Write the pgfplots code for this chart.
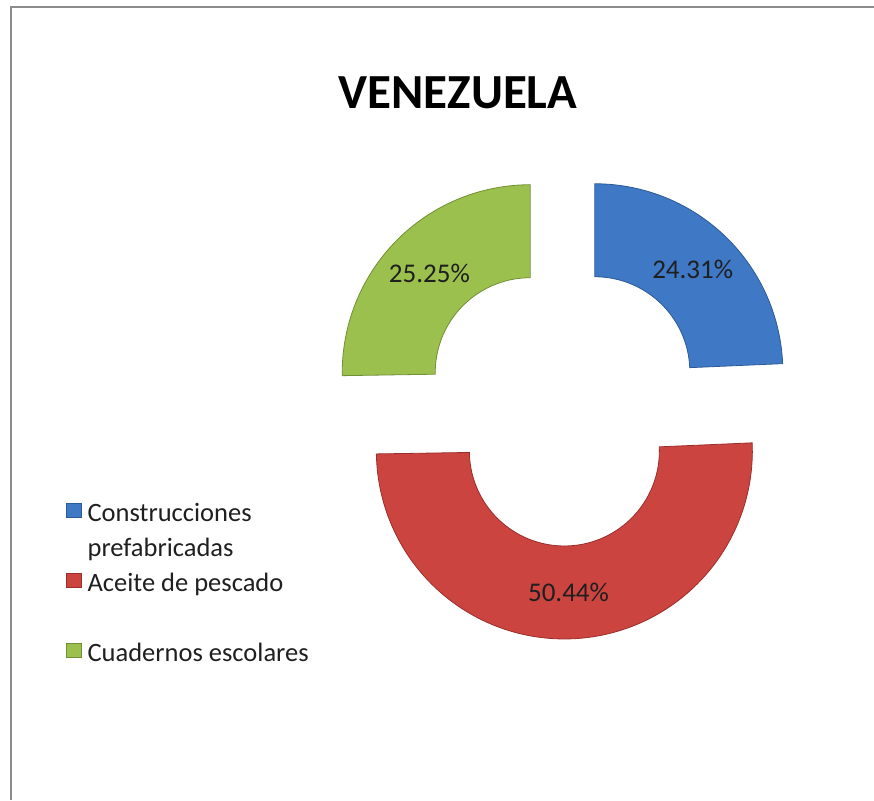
\documentclass[border=0pt]{standalone}
\usepackage{fontspec}
\setmainfont{Carlito}
\usepackage{pgfplots}
\pgfplotsset{compat=1.18}
\usepgfplotslibrary{fillbetween}

\definecolor{cBlue}{HTML}{3F78C4}
\definecolor{cBlueD}{HTML}{2C5A96}
\definecolor{cRed}{HTML}{CC4440}
\definecolor{cRedD}{HTML}{9A2E2B}
\definecolor{cGreen}{HTML}{9BC04E}
\definecolor{cGreenD}{HTML}{728F35}
\definecolor{frameGray}{HTML}{8C8C8C}

\begin{document}
\begin{tikzpicture}
% shares (percent), clockwise from 12 o'clock
\def\vA{24.31}\def\vB{50.44}\def\vC{25.25}
% ring geometry in px: centre, outer/inner radius, explosion
\def\cx{563}\def\cy{395}\def\ro{188}\def\ri{95}\def\dx{46}
\pgfmathsetmacro\aA{90}
\pgfmathsetmacro\aB{\aA-3.6*\vA}
\pgfmathsetmacro\aC{\aB-3.6*\vB}
\pgfmathsetmacro\aD{\aC-3.6*\vC}
\pgfmathsetmacro\mA{(\aA+\aB)/2}
\pgfmathsetmacro\mB{(\aB+\aC)/2}
\pgfmathsetmacro\mC{(\aC+\aD)/2}
\pgfmathsetmacro\xA{\cx+\dx*cos(\mA)}\pgfmathsetmacro\yA{\cy+\dx*sin(\mA)}
\pgfmathsetmacro\xB{\cx+\dx*cos(\mB)}\pgfmathsetmacro\yB{\cy+\dx*sin(\mB)}
\pgfmathsetmacro\xC{\cx+\dx*cos(\mC)}\pgfmathsetmacro\yC{\cy+\dx*sin(\mC)}
\pgfmathsetmacro\rm{(\ro+\ri)/2}
\pgfmathsetmacro\lxA{\xA+\rm*cos(\mA)}\pgfmathsetmacro\lyA{\yA+\rm*sin(\mA)}
\pgfmathsetmacro\lxB{\xB+\rm*cos(\mB)}\pgfmathsetmacro\lyB{\yB+\rm*sin(\mB)}
\pgfmathsetmacro\lxC{\xC+\rm*cos(\mC)}\pgfmathsetmacro\lyC{\yC+\rm*sin(\mC)}

\begin{axis}[
  width=874pt, height=800pt, scale only axis,
  xmin=0, xmax=874, ymin=0, ymax=800,
  hide axis, clip=false,
  legend cell align=left,
  legend image code/.code={\draw[#1] (0pt,-7pt) rectangle (15pt,7pt);},
  legend style={at={(axis cs:66,303.3)}, anchor=north west,
    draw=none, fill=none, inner sep=0pt, row sep=9.3pt, column sep=6pt,
    font=\fontsize{26.5}{34.75}\selectfont, text=black!88,
    nodes={inner sep=0pt}},
]
\coordinate (bl) at (rel axis cs:0,0);
\coordinate (tr) at (rel axis cs:1,1);

% Construcciones prefabricadas
\addplot[forget plot, draw=none, name path=oA, domain=\aB:\aA, samples=70]
  ({\xA+\ro*cos(x)},{\yA+\ro*sin(x)});
\addplot[forget plot, draw=none, name path=iA, domain=\aB:\aA, samples=70]
  ({\xA+\ri*cos(x)},{\yA+\ri*sin(x)});
\addplot[forget plot, fill=cBlue, draw=cBlueD, line width=0.8pt] fill between[of=oA and iA];

% Aceite de pescado
\addplot[forget plot, draw=none, name path=oB, domain=\aC:\aB, samples=120]
  ({\xB+\ro*cos(x)},{\yB+\ro*sin(x)});
\addplot[forget plot, draw=none, name path=iB, domain=\aC:\aB, samples=120]
  ({\xB+\ri*cos(x)},{\yB+\ri*sin(x)});
\addplot[forget plot, fill=cRed, draw=cRedD, line width=0.8pt] fill between[of=oB and iB];

% Cuadernos escolares
\addplot[forget plot, draw=none, name path=oC, domain=\aD:\aC, samples=70]
  ({\xC+\ro*cos(x)},{\yC+\ro*sin(x)});
\addplot[forget plot, draw=none, name path=iC, domain=\aD:\aC, samples=70]
  ({\xC+\ri*cos(x)},{\yC+\ri*sin(x)});
\addplot[forget plot, fill=cGreen, draw=cGreenD, line width=0.8pt] fill between[of=oC and iC];

% data labels
\node[font=\fontsize{27}{30}\selectfont, text=black!88] at (axis cs:\lxA,\lyA) {24.31\%};
\node[font=\fontsize{27}{30}\selectfont, text=black!88] at (axis cs:\lxB,\lyB) {50.44\%};
\node[font=\fontsize{27}{30}\selectfont, text=black!88] at (axis cs:\lxC,\lyC) {25.25\%};

% title
\node[font=\bfseries\fontsize{49}{52}\selectfont] at (axis cs:458,707) {VENEZUELA};

% chart frame (only top and left edges are in view)
\draw[frameGray, line width=2pt] (axis cs:10.5,0) -- (axis cs:10.5,792.5) -- (axis cs:874,792.5);

\addlegendimage{fill=cBlue, draw=cBlueD}
\addlegendentry{\strut Construcciones}
\addlegendimage{empty legend}
\addlegendentry{\strut prefabricadas}
\addlegendimage{fill=cRed, draw=cRedD}
\addlegendentry{\strut Aceite de pescado}
\addlegendimage{empty legend}
\addlegendentry{\strut}
\addlegendimage{fill=cGreen, draw=cGreenD}
\addlegendentry{\strut Cuadernos escolares}
\end{axis}
\pgfresetboundingbox
\useasboundingbox (bl) rectangle (tr);
\end{tikzpicture}
\end{document}
